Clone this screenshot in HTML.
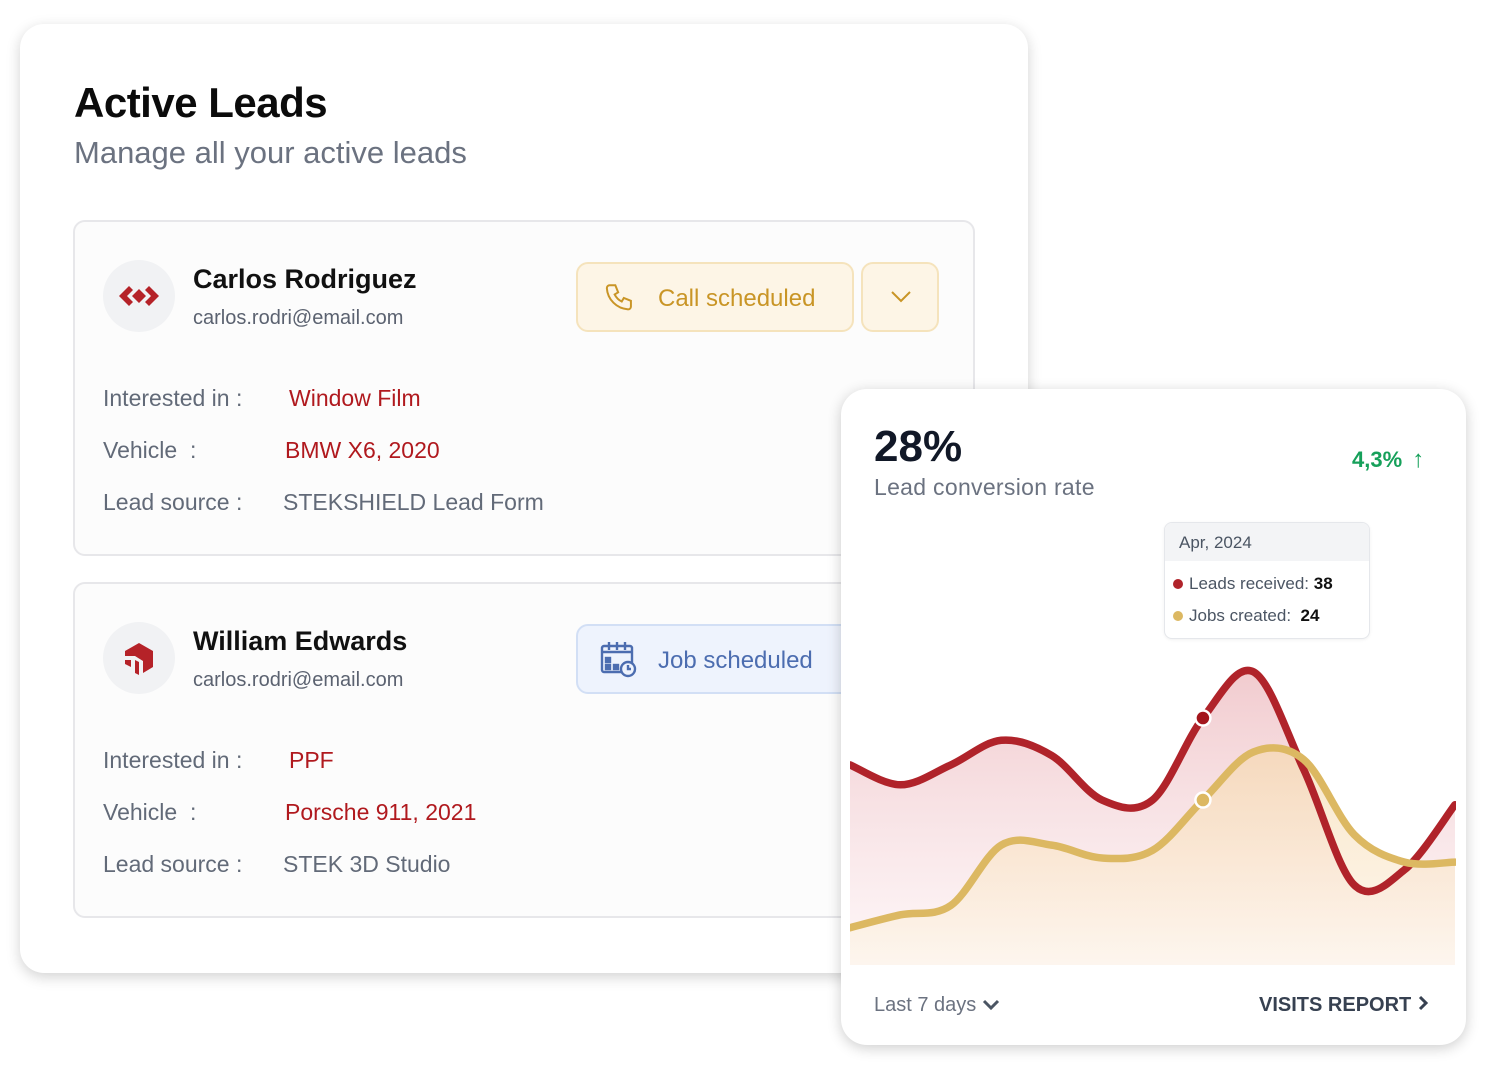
<!DOCTYPE html>
<html><head><meta charset="utf-8"><style>
*{box-sizing:border-box;margin:0;padding:0}
body{width:1500px;height:1073px;background:#fff;position:relative;overflow:hidden;font-family:"Liberation Sans",sans-serif}
.abs{position:absolute}
#main{left:20px;top:24px;width:1008px;height:949px;background:#fff;border-radius:24px;box-shadow:0 4px 14px rgba(0,0,0,.18)}
.lead{position:absolute;background:#fcfcfc;border:2px solid #e7e7ea;border-radius:12px}
.av{position:absolute;width:72px;height:72px;border-radius:50%;background:#f1f2f4}
.nm{position:absolute;font-size:27px;font-weight:bold;color:#111}
.em{position:absolute;font-size:20px;color:#5b6270}
.lb{position:absolute;font-size:23px;color:#626a78}
.vl{position:absolute;font-size:23px;color:#b0191e}
.vg{position:absolute;font-size:23px;color:#626a78}
#chartcard{left:841px;top:389px;width:625px;height:656px;background:#fff;border-radius:26px;box-shadow:0 3px 14px rgba(0,0,0,.2)}
</style></head><body>
<div id="main" class="abs">
  <div class="abs" style="left:54px;top:55px;font-size:42px;font-weight:bold;color:#0b0b0b;letter-spacing:-0.5px">Active Leads</div>
  <div class="abs" style="left:54px;top:111px;font-size:31px;color:#6b7280">Manage all your active leads</div>

  <div class="lead" style="left:53px;top:196px;width:902px;height:336px">
    <div class="av" style="left:28px;top:38px">
      <svg width="72" height="72" viewBox="0 0 72 72"><path d="M26 26 L16 36 L26 46 L30 42 L24 36 L30 30Z M46 26 L56 36 L46 46 L42 42 L48 36 L42 30Z M36 29 L43 36 L36 43 L29 36Z" fill="#b52228"/></svg>
    </div>
    <div class="nm" style="left:118px;top:42px">Carlos Rodriguez</div>
    <div class="em" style="left:118px;top:85px">carlos.rodri@email.com</div>
    <div class="abs" style="left:501px;top:40px;width:278px;height:70px;background:#fdf5e6;border:2px solid #f5e3bc;border-radius:12px">
      <svg class="abs" style="left:26px;top:17px" width="34" height="34" viewBox="0 0 24 24" fill="none" stroke="#c99526" stroke-width="1.4"><path d="M4 3h4l2 5-2.5 1.5a11 11 0 0 0 5 5L14 12l5 2v4a2 2 0 0 1-2 2A16 16 0 0 1 2 5a2 2 0 0 1 2-2z"/></svg>
      <div class="abs" style="left:80px;top:21px;font-size:24px;color:#c99526">Call scheduled</div>
    </div>
    <div class="abs" style="left:786px;top:40px;width:78px;height:70px;background:#fdf5e6;border:2px solid #f5e3bc;border-radius:12px">
      <svg class="abs" style="left:27px;top:26px" width="22" height="14" viewBox="0 0 22 14"><path d="M2 2 L11 11 L20 2" fill="none" stroke="#c99526" stroke-width="2"/></svg>
    </div>
    <div class="lb" style="left:28px;top:163px">Interested in :</div><div class="vl" style="left:214px;top:163px">Window Film</div>
    <div class="lb" style="left:28px;top:215px">Vehicle &nbsp;:</div><div class="vl" style="left:210px;top:215px">BMW X6, 2020</div>
    <div class="lb" style="left:28px;top:267px">Lead source :</div><div class="vg" style="left:208px;top:267px">STEKSHIELD Lead Form</div>
  </div>

  <div class="lead" style="left:53px;top:558px;width:902px;height:336px">
    <div class="av" style="left:28px;top:38px">
      <svg width="72" height="72" viewBox="0 0 72 72"><path d="M36 21 L50 29 L50 45 L40 51 L40 39 L32 34 L22 34 L22 29Z M22 38 L28 38 L28 45 L22 42Z M32 38 L36 40 L36 53 L32 51Z" fill="#b52228"/></svg>
    </div>
    <div class="nm" style="left:118px;top:42px">William Edwards</div>
    <div class="em" style="left:118px;top:85px">carlos.rodri@email.com</div>
    <div class="abs" style="left:501px;top:40px;width:300px;height:70px;background:#eef3fd;border:2px solid #d2dff5;border-radius:12px">
      <svg class="abs" style="left:22px;top:14px" width="38" height="38" viewBox="0 0 38 38" fill="none" stroke="#4c6db0" stroke-width="2.4"><rect x="2" y="6" width="30" height="26" rx="2"/><path d="M2 12h30M9 2v8M17 2v8M25 2v8"/><rect x="6" y="18" width="4" height="4" fill="#4c6db0"/><rect x="6" y="25" width="4" height="4" fill="#4c6db0"/><rect x="14" y="25" width="4" height="4" fill="#4c6db0"/><circle cx="28" cy="29" r="7" fill="#eef3fd"/><path d="M28 25v4h3"/></svg>
      <div class="abs" style="left:80px;top:21px;font-size:24px;color:#4c6db0">Job scheduled</div>
    </div>
    <div class="lb" style="left:28px;top:163px">Interested in :</div><div class="vl" style="left:214px;top:163px">PPF</div>
    <div class="lb" style="left:28px;top:215px">Vehicle &nbsp;:</div><div class="vl" style="left:210px;top:215px">Porsche 911, 2021</div>
    <div class="lb" style="left:28px;top:267px">Lead source :</div><div class="vg" style="left:208px;top:267px">STEK 3D Studio</div>
  </div>
</div>

<div id="chartcard" class="abs">
  <div class="abs" style="left:33px;top:33px;font-size:44px;font-weight:bold;color:#111827">28%</div>
  <div class="abs" style="left:33px;top:85px;font-size:23px;color:#6b7280;letter-spacing:0.3px">Lead conversion rate</div>
  <div class="abs" style="left:511px;top:57px;font-size:22px;font-weight:bold;color:#16a05a">4,3% <span style="font-size:24px;margin-left:4px">↑</span></div>
  <div class="abs" style="left:33px;top:605px;font-size:20px;color:#6b7280">Last 7 days <svg width="18" height="12" viewBox="0 0 18 12"><path d="M2 2 L9 9 L16 2" fill="none" stroke="#4b5563" stroke-width="3"/></svg></div>
  <div class="abs" style="left:418px;top:605px;font-size:20px;font-weight:bold;color:#374151">VISITS REPORT <svg width="12" height="16" viewBox="0 0 12 16"><path d="M3 2 L9 8 L3 14" fill="none" stroke="#374151" stroke-width="3"/></svg></div>
</div>

<svg id="chart" class="abs" style="left:0;top:0" width="1500" height="1073">
  <defs>
    <linearGradient id="gr" x1="0" y1="0" x2="0" y2="1"><stop offset="0" stop-color="#e8a8ae" stop-opacity=".6"/><stop offset="1" stop-color="#fbe9ec" stop-opacity=".4"/></linearGradient>
    <linearGradient id="gy" x1="0" y1="0" x2="0" y2="1"><stop offset="0" stop-color="#f6d8a8" stop-opacity=".6"/><stop offset="1" stop-color="#fdf5ea" stop-opacity=".7"/></linearGradient>
    <clipPath id="cp"><rect x="850" y="500" width="606" height="466"/></clipPath>
  </defs>
  <g id="plot" clip-path="url(#cp)"></g>
</svg>

<div class="abs" style="left:1164px;top:522px;width:206px;height:117px;background:#fff;border:1.5px solid #e5e7eb;border-radius:8px;overflow:hidden;box-shadow:0 1px 3px rgba(0,0,0,.06)">
  <div style="height:38px;background:#f3f4f6;padding:10px 0 0 14px;font-size:17px;color:#4b5563">Apr, 2024</div>
  <div style="position:absolute;left:8px;top:51px;font-size:17px;color:#4b5563"><span style="display:inline-block;width:10px;height:10px;border-radius:50%;background:#b0232a;margin-right:6px"></span>Leads received: <b style="color:#111">38</b></div>
  <div style="position:absolute;left:8px;top:83px;font-size:17px;color:#4b5563"><span style="display:inline-block;width:10px;height:10px;border-radius:50%;background:#dcb862;margin-right:6px"></span>Jobs created: &nbsp;<b style="color:#111">24</b></div>
</div>

<script>
const periods = ["P1","P2","P3","P4","P5","P6","P7","P8","P9","P10","P11","P12","P13"];
const leadsReceived = [30.0, 26.6, 30.0, 34.2, 31.6, 24.0, 24.0, 38, 45.9, 29.2, 9.5, 12.1, 23.2];
const jobsCreated = [2.2, 4.4, 6.0, 16.3, 16.3, 14.1, 15.4, 24, 32.2, 30.9, 18.1, 13.4, 13.4];
const highlightIndex = 7;

const X0 = 850, X1 = 1455, YBASE = 965;
function xScale(i){ return X0 + i*(X1-X0)/(periods.length-1); }
function yScale(v){ return 940.6 - v*5.857; }
function smooth(pts){
  let d = `M${pts[0][0]},${pts[0][1]}`;
  for(let i=0;i<pts.length-1;i++){
    const p0=pts[Math.max(0,i-1)],p1=pts[i],p2=pts[i+1],p3=pts[Math.min(pts.length-1,i+2)];
    const c1=[p1[0]+(p2[0]-p0[0])/6,p1[1]+(p2[1]-p0[1])/6];
    const c2=[p2[0]-(p3[0]-p1[0])/6,p2[1]-(p3[1]-p1[1])/6];
    d+=` C${c1[0]},${c1[1]} ${c2[0]},${c2[1]} ${p2[0]},${p2[1]}`;
  }
  return d;
}
const NS="http://www.w3.org/2000/svg";
const g=document.getElementById('plot');
function series(vals, fill, stroke, name){
  const pts=vals.map((v,i)=>[xScale(i),yScale(v)]);
  const line=smooth(pts);
  const area=document.createElementNS(NS,'path');
  area.setAttribute('d',line+` L${X1},${YBASE} L${X0},${YBASE} Z`);
  area.setAttribute('fill',fill);
  
  
  g.appendChild(area);
  const l=document.createElementNS(NS,'path');
  l.setAttribute('d',line);l.setAttribute('fill','none');l.setAttribute('stroke',stroke);l.setAttribute('stroke-width','7.5');l.setAttribute('stroke-linecap','round');
  
  
  return l;
}
const rl=series(leadsReceived,'url(#gr)','#b0232a','leads-received');
const yl=series(jobsCreated,'url(#gy)','#dcb862','jobs-created');
g.appendChild(rl);g.appendChild(yl);
function marker(vals,color,name){
  const c=document.createElementNS(NS,'circle');
  c.setAttribute('cx',xScale(highlightIndex));c.setAttribute('cy',yScale(vals[highlightIndex]));
  c.setAttribute('r','7.5');c.setAttribute('fill',color);c.setAttribute('stroke','#fff');c.setAttribute('stroke-width','2.5');
  
  
  g.appendChild(c);
}
marker(leadsReceived,'#a3151c','leads-marker');
marker(jobsCreated,'#dcb862','jobs-marker');
</script>
</body></html>
